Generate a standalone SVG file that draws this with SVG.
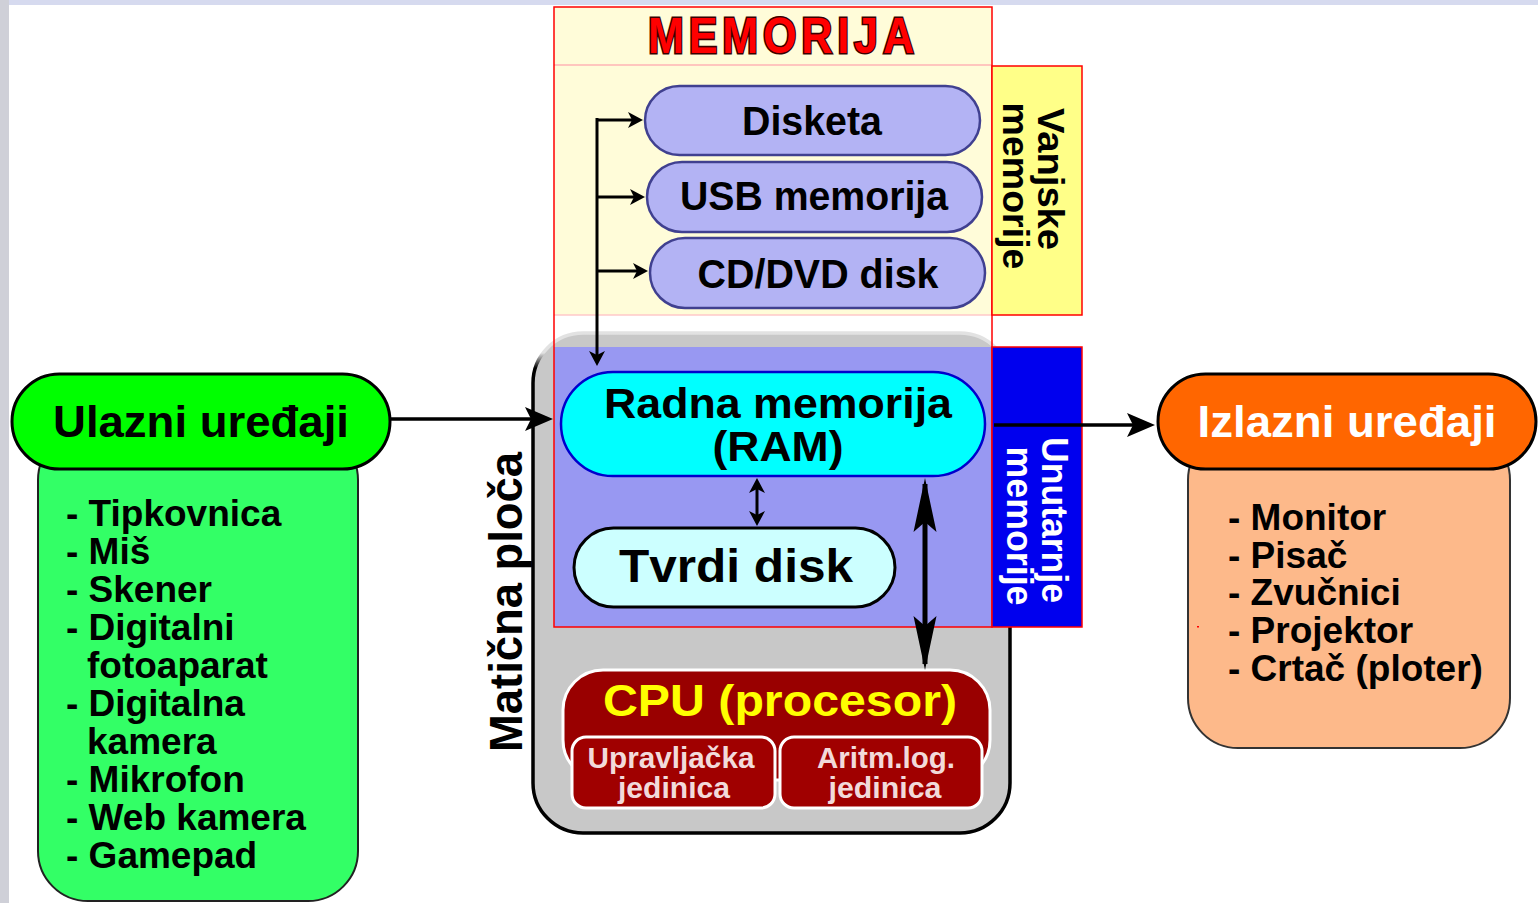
<svg xmlns="http://www.w3.org/2000/svg" width="1538" height="903" viewBox="0 0 1538 903">
<style>
text{font-family:"Liberation Sans",Arial,sans-serif;font-weight:bold;}
.pill{fill:#B3B3F4;stroke:#404090;stroke-width:2.5;}
.c{text-anchor:middle;}
.lst{font-size:37px;fill:#000;}
.line{stroke:#000;fill:none;}
.sub{fill:#A00000;stroke:#fff;stroke-width:3;}
.subt{fill:#F2DADA;font-size:29px;text-anchor:middle;}
</style>
<defs>
<linearGradient id="mbStroke" x1="0" y1="0" x2="0" y2="1">
<stop offset="0" stop-color="#e2e2e2"/>
<stop offset="0.04" stop-color="#e2e2e2"/>
<stop offset="0.07" stop-color="#000"/>
<stop offset="1" stop-color="#000"/>
</linearGradient>
<marker id="ahBig" viewBox="-30 -15 42 30" refX="0" refY="0" markerWidth="42" markerHeight="30" markerUnits="userSpaceOnUse" orient="auto">
<path d="M8,0 L-20,-12 L-14,0 L-20,12 z" fill="#000"/>
</marker>
<marker id="ahSm" viewBox="-20 -10 30 20" refX="0" refY="0" markerWidth="30" markerHeight="20" markerUnits="userSpaceOnUse" orient="auto-start-reverse">
<path d="M4,0 L-11,-8 L-7,0 L-11,8 z" fill="#000"/>
</marker>
<marker id="ahLong" viewBox="-60 -14 70 28" refX="0" refY="0" markerWidth="70" markerHeight="28" markerUnits="userSpaceOnUse" orient="auto-start-reverse">
<path d="M6,0 L-48,-11.5 L-38,0 L-48,11.5 z" fill="#000"/>
</marker>
</defs>

<rect x="0" y="0" width="1538" height="903" fill="#ffffff"/>
<rect x="0" y="0" width="1538" height="5" fill="#d6daef"/>
<rect x="0" y="0" width="9" height="903" fill="#cfd0d8"/>

<g id="maticna-ploca">
<rect x="533" y="333" width="477" height="500" rx="50" fill="#C8C8C8" stroke="url(#mbStroke)" stroke-width="3.5"/>
<text transform="translate(522,602) rotate(-90)" class="c" font-size="46" textLength="300" lengthAdjust="spacingAndGlyphs">Matična ploča</text>
</g>

<g id="memorija">
<rect x="554" y="7" width="438" height="308" fill="#FFFCD9"/>
<line x1="554" y1="65" x2="992" y2="65" stroke="#ffb4b4" stroke-width="1.5"/>
<line x1="554" y1="315" x2="992" y2="315" stroke="#ffc8c8" stroke-width="1.5"/>
<rect x="554" y="347" width="438" height="280" fill="#9898F2"/>
<rect x="554" y="7" width="438" height="620" fill="none" stroke="#ff0000" stroke-width="1.5"/>
<text transform="translate(781,53) scale(1,1.18)" x="0" y="0" class="c" font-size="43" fill="#ff0000" stroke="#3a0000" stroke-width="2.6" paint-order="stroke" textLength="266" lengthAdjust="spacing">MEMORIJA</text>
</g>

<g id="vanjske-memorije">
<rect x="992" y="66" width="90" height="249" fill="#FFFF88" stroke="#ff0000" stroke-width="1.5"/>
<text transform="translate(1038,179) rotate(90)" class="c" font-size="37" textLength="142" lengthAdjust="spacingAndGlyphs">Vanjske</text>
<text transform="translate(1003,186) rotate(90)" class="c" font-size="37" textLength="167" lengthAdjust="spacingAndGlyphs">memorije</text>
</g>

<g id="unutarnje-memorije">
<rect x="992" y="347" width="90" height="280" fill="#0000EE" stroke="#ff0000" stroke-width="1.5"/>
<text transform="translate(1042,520) rotate(90)" class="c" font-size="36" fill="#fff" textLength="166" lengthAdjust="spacingAndGlyphs">Unutarnje</text>
<text transform="translate(1007,526) rotate(90)" class="c" font-size="36" fill="#fff" textLength="159" lengthAdjust="spacingAndGlyphs">memorije</text>
</g>

<g id="disketa">
<rect x="645" y="86" width="335" height="69" rx="34.5" class="pill"/>
<text x="812" y="135" class="c" font-size="40" textLength="140" lengthAdjust="spacingAndGlyphs">Disketa</text>
</g>
<g id="usb-memorija">
<rect x="647" y="162" width="335" height="70" rx="35" class="pill"/>
<text x="814" y="210" class="c" font-size="40" textLength="268" lengthAdjust="spacingAndGlyphs">USB memorija</text>
</g>
<g id="cd-dvd-disk">
<rect x="650" y="238" width="335" height="70" rx="35" class="pill"/>
<text x="818" y="288" class="c" font-size="40" textLength="241" lengthAdjust="spacingAndGlyphs">CD/DVD disk</text>
</g>

<g id="ram">
<rect x="561" y="372" width="424" height="104" rx="52" fill="#00FFFF" stroke="#0000CC" stroke-width="2.5"/>
<text x="778" y="418" class="c" font-size="42" textLength="348" lengthAdjust="spacingAndGlyphs">Radna memorija</text>
<text x="778" y="461" class="c" font-size="42" textLength="131" lengthAdjust="spacingAndGlyphs">(RAM)</text>
</g>

<g id="tvrdi-disk">
<rect x="574" y="528" width="321" height="79" rx="39.5" fill="#CCFFFF" stroke="#000" stroke-width="3"/>
<text x="736" y="582" class="c" font-size="46" textLength="234" lengthAdjust="spacingAndGlyphs">Tvrdi disk</text>
</g>

<g id="cpu">
<rect x="563" y="670" width="427" height="110" rx="40" fill="#990000" stroke="#fff" stroke-width="3"/>
<text x="780" y="716" class="c" font-size="44" fill="#FFFF00" textLength="354" lengthAdjust="spacingAndGlyphs">CPU (procesor)</text>
<rect x="572" y="737" width="203" height="71" rx="14" class="sub"/>
<rect x="780" y="737" width="202" height="71" rx="14" class="sub"/>
<text x="671" y="768" class="subt" textLength="167" lengthAdjust="spacingAndGlyphs">Upravljačka</text>
<text x="674" y="798" class="subt" textLength="112" lengthAdjust="spacingAndGlyphs">jedinica</text>
<text x="886" y="768" class="subt" textLength="138" lengthAdjust="spacingAndGlyphs">Aritm.log.</text>
<text x="885" y="798" class="subt" textLength="113" lengthAdjust="spacingAndGlyphs">jedinica</text>
</g>

<g id="ulazni-uredaji">
<rect x="38" y="430" width="320" height="471" rx="50" fill="#33FF66" stroke="#222" stroke-width="2"/>
<rect x="12" y="374" width="378" height="95" rx="47.5" fill="#00FF00" stroke="#000" stroke-width="3"/>
<text x="201" y="437" class="c" font-size="44" textLength="296" lengthAdjust="spacingAndGlyphs">Ulazni uređaji</text>
<text x="66" y="526" class="lst">- Tipkovnica</text>
<text x="66" y="564" class="lst">- Miš</text>
<text x="66" y="602" class="lst">- Skener</text>
<text x="66" y="640" class="lst">- Digitalni</text>
<text x="87" y="678" class="lst">fotoaparat</text>
<text x="66" y="716" class="lst">- Digitalna</text>
<text x="87" y="754" class="lst">kamera</text>
<text x="66" y="792" class="lst">- Mikrofon</text>
<text x="66" y="830" class="lst">- Web kamera</text>
<text x="66" y="868" class="lst">- Gamepad</text>
</g>

<g id="izlazni-uredaji">
<rect x="1188" y="430" width="322" height="318" rx="50" fill="#FDB98A" stroke="#333" stroke-width="2"/>
<rect x="1158" y="374" width="378" height="95" rx="47.5" fill="#FF6600" stroke="#000" stroke-width="3"/>
<text x="1347" y="437" class="c" font-size="44" fill="#fff" textLength="299" lengthAdjust="spacingAndGlyphs">Izlazni uređaji</text>
<text x="1228" y="530" class="lst">- Monitor</text>
<text x="1228" y="568" class="lst">- Pisač</text>
<text x="1228" y="605" class="lst">- Zvučnici</text>
<text x="1228" y="643" class="lst">- Projektor</text>
<text x="1228" y="681" class="lst">- Crtač (ploter)</text>
<rect x="1197" y="626" width="2" height="1.5" fill="#ff0000"/>
</g>

<g id="connectors">
<line x1="390" y1="419" x2="545" y2="419" class="line" stroke-width="3.5" marker-end="url(#ahBig)"/>
<line x1="994" y1="425" x2="1147" y2="425" class="line" stroke-width="3.5" marker-end="url(#ahBig)"/>
<path d="M597,118 V362" class="line" stroke-width="3" marker-end="url(#ahSm)"/>
<line x1="596" y1="120" x2="639" y2="120" class="line" stroke-width="3" marker-end="url(#ahSm)"/>
<line x1="596" y1="197" x2="641" y2="197" class="line" stroke-width="3" marker-end="url(#ahSm)"/>
<line x1="596" y1="271" x2="644" y2="271" class="line" stroke-width="3" marker-end="url(#ahSm)"/>
<line x1="757" y1="482" x2="757" y2="522" class="line" stroke-width="3" marker-start="url(#ahSm)" marker-end="url(#ahSm)"/>
<line x1="925" y1="484" x2="925" y2="664" class="line" stroke-width="5" marker-start="url(#ahLong)" marker-end="url(#ahLong)"/>
</g>
</svg>
